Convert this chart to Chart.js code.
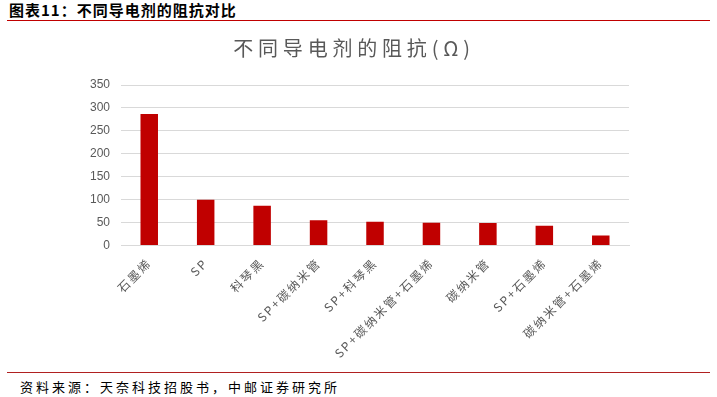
<!DOCTYPE html>
<html>
<head>
<meta charset="utf-8">
<script src="https://cdn.jsdelivr.net/npm/chart.js@4.4.1/dist/chart.umd.min.js"></script>
<style>
    html, body { margin: 0; padding: 0; background: #fff; }
    body { width: 717px; height: 397px; position: relative; overflow: hidden; font-family: "Noto Sans CJK SC", sans-serif; }
    .head { position: absolute; left: 9px; top: 0px; font-size: 15px; font-weight: bold; color: #000; line-height: 19px; letter-spacing: 1px; }
    .line-top { position: absolute; left: 7px; right: 7px; top: 20px; height: 1px; background: #c00000; }
    .chart-box { position: absolute; left: 0; top: 24px; width: 717px; height: 344px; }
    .line-bottom { position: absolute; left: 7px; right: 7px; top: 372px; height: 1px; background: #b02020; }
    .source { position: absolute; left: 20px; top: 378px; font-size: 13px; color: #000; line-height: 18px; letter-spacing: 3px; }
</style>
</head>
<body>
<div class="head">图表11：不同导电剂的阻抗对比</div>
<div class="line-top"></div>
<div class="chart-box"><canvas id="resistChart"></canvas></div>
<div class="line-bottom"></div>
<div class="source">资料来源：天奈科技招股书，中邮证券研究所</div>
<script>
    // Chart data
    const categories = ['石墨烯', 'SP', '科琴黑', 'SP+碳纳米管', 'SP+科琴黑', 'SP+碳纳米管+石墨烯', '碳纳米管', 'SP+石墨烯', '碳纳米管+石墨烯'];
    const resistance = [287, 100, 87, 55, 52, 50, 49, 43, 22];
    const yTicks = [0, 50, 100, 150, 200, 250, 300, 350];

    // Wider letter spacing for the title and the category labels
    const spacingPlugin = {
        id: 'spacing',
        afterUpdate(chart) {
            const ctx = chart.ctx;
            const xScale = chart.scales.x;
            if (xScale && !xScale._spaced) {
                const drawLabels = xScale.drawLabels;
                // labels grow with the spacing, so don't clip them to the measured axis box
                xScale._computeLabelArea = function() { return undefined; };
                xScale.drawLabels = function(area) {
                    ctx.save();
                    ctx.letterSpacing = '2px';
                    drawLabels.call(this, area);
                    ctx.restore();
                };
                xScale._spaced = true;
            }
            const title = chart.titleBlock;
            if (title && !title._spaced) {
                const drawTitle = title.draw;
                title.draw = function() {
                    ctx.save();
                    ctx.letterSpacing = '4.8px';
                    drawTitle.apply(this, arguments);
                    ctx.restore();
                };
                title._spaced = true;
            }
        }
    };

    const ctx = document.getElementById('resistChart').getContext('2d');
    new Chart(ctx, {
        type: 'bar',
        data: {
            labels: categories,
            datasets: [{
                data: resistance,
                backgroundColor: '#c00000',
                borderWidth: 0,
                barPercentage: 0.5,
                categoryPercentage: 0.62
            }]
        },
        plugins: [spacingPlugin],
        options: {
            responsive: true,
            maintainAspectRatio: false,
            animation: false,
            layout: { padding: { left: 79, right: 88, top: 4, bottom: 13 } },
            plugins: {
                legend: { display: false },
                tooltip: { enabled: false },
                title: {
                    display: true,
                    text: '不同导电剂的阻抗(Ω)',
                    color: '#595959',
                    font: { family: '"Noto Sans CJK SC"', size: 20, weight: 'normal' },
                    padding: { top: 8, bottom: 25 }
                }
            },
            scales: {
                y: {
                    min: yTicks[0],
                    max: yTicks[yTicks.length - 1],
                    afterBuildTicks: axis => { axis.ticks = yTicks.map(v => ({ value: v })); },
                    ticks: { color: '#595959', font: { family: 'Liberation Sans', size: 12 }, padding: 11 },
                    grid: { color: '#d9d9d9', drawTicks: false },
                    border: { display: false }
                },
                x: {
                    ticks: {
                        color: '#595959',
                        font: { family: '"Noto Sans CJK SC"', size: 12 },
                        minRotation: 45,
                        maxRotation: 45,
                        autoSkip: false,
                        padding: 10
                    },
                    grid: { display: false, drawTicks: false },
                    border: { color: '#d9d9d9' }
                }
            }
        }
    });
</script>
</body>
</html>
